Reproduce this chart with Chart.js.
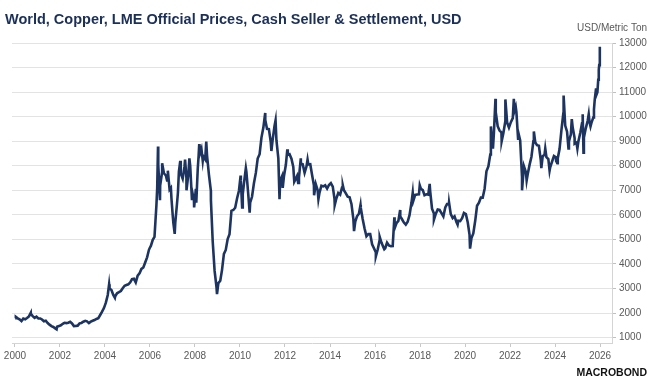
<!DOCTYPE html>
<html><head><meta charset="utf-8">
<script src="https://cdn.jsdelivr.net/npm/chart.js@4.4.1/dist/chart.umd.min.js"></script>
<style>html,body{margin:0;padding:0;background:#fff}#wrap{width:652px;height:385px;position:relative}</style>
</head><body><div id="wrap"><canvas id="c" width="652" height="385"></canvas></div>
<script>
const titleText = 'World, Copper, LME Official Prices, Cash Seller & Settlement, USD';
const unitLabel = 'USD/Metric Ton';
const logoText = 'MACROBOND';

// Monthly readings from Jan 2000 through Sep 2025 (USD per metric ton)
const firstYear = 2000;
const monthlyPrices = [
  1844,1786,1742,1675,1774,1747,1795,1864,1971,1875,1807,1854,
  1781,1781,1737,1667,1687,1593,1528,1467,1433,1378,1440,1469,
  1501,1562,1603,1589,1605,1644,1578,1471,1476,1485,1581,1597,
  1648,1683,1662,1590,1648,1686,1713,1760,1790,1921,2056,2202,
  2423,2737,3002,2935,2739,2683,2807,2848,2895,3011,3111,3142,
  3170,3254,3379,3394,3249,3524,3614,3797,3857,4059,4269,4576,
  4734,4982,5103,6387,8046,7197,7712,7695,7602,7500,7029,6676,
  5669,5676,6452,7766,7682,7475,7973,7510,7650,8008,6967,6588,
  7061,7888,8439,8685,8382,8260,8414,7633,6991,4926,3717,3072,
  3221,3315,3750,4407,4569,5014,5216,6165,6196,6288,6676,6982,
  7386,6849,7463,7745,6838,6499,6735,7284,7709,8292,8470,9147,
  9556,9868,9503,9493,8960,9067,9620,9040,8300,7394,7581,7566,
  8040,8441,8471,8289,7955,7422,7584,7515,8088,8062,7711,7966,
  8047,8061,7646,7203,7253,7000,6907,7186,7159,7203,7071,7215,
  7291,7149,6650,6674,6891,6821,7113,7002,6872,6737,6713,6446,
  5831,5729,5940,6042,6295,5833,5457,5127,5217,5216,4800,4639,
  4472,4599,4954,4873,4695,4640,4864,4750,4723,4731,5450,5660,
  5755,5941,5820,5685,5599,5719,5985,6480,6577,6812,6827,6834,
  7066,7006,6800,6838,6824,6967,6249,6052,6050,6219,6198,6073,
  5939,6305,6439,6436,6030,5867,5941,5709,5758,5744,5862,6077,
  6031,5687,5183,5058,5240,5757,6369,6498,6705,6703,7064,7772,
  7971,8460,9005,9336,10184,9612,9433,9357,9324,9778,9765,9551,
  9776,9941,10237,10183,9361,9032,7532,7982,7746,7651,8045,8367,
  8999,8955,8836,8814,8234,8386,8447,8352,8270,7940,8172,8393,
  8344,8307,8679,9466,10129,9638,9388,8988,9277,9554,9127,8945,
  8986,9342,9732,9155,9525,9834,9780,9746,9970
];

// Individual daily readings (highs, lows and the latest weeks)
const dailyDates = [
  '2000-01-04','2000-09-14','2001-11-07','2004-03-08','2004-06-10','2005-12-28',
  '2006-04-28','2006-05-11','2006-06-12','2006-07-17','2006-10-05','2006-10-20',
  '2006-12-06','2007-01-04','2007-02-06','2007-03-30','2007-05-07','2007-07-24',
  '2007-08-16','2007-10-02','2007-11-13','2007-12-18','2008-01-22','2008-02-29',
  '2008-03-10','2008-05-06','2008-07-02','2008-09-16','2008-12-24','2010-01-11',
  '2010-02-05','2010-04-06','2010-06-07','2011-02-14','2011-05-25','2011-08-01',
  '2011-10-04','2011-11-25','2012-02-08','2012-05-31','2012-08-02','2012-09-14',
  '2013-01-02','2013-04-18','2013-06-27','2014-03-19','2014-07-28','2015-01-26',
  '2015-05-11','2016-01-15','2016-03-18','2016-05-31','2016-11-11','2017-02-13',
  '2017-09-05','2017-12-28','2018-06-07','2018-08-15','2019-04-17','2019-09-03',
  '2020-03-23','2021-02-25','2021-03-30','2021-05-10','2021-08-19','2021-10-18',
  '2022-03-04','2022-04-04','2022-05-12','2022-07-15','2022-09-28','2023-01-23',
  '2023-05-24','2023-07-27','2023-10-05','2024-01-19','2024-02-07','2024-05-20',
  '2024-08-07','2024-09-30','2024-11-15','2024-12-30','2025-01-02','2025-03-26',
  '2025-04-08','2025-07-02','2025-07-31','2025-09-25','2025-10-08','2025-10-29',
  '2025-11-05','2025-11-20','2025-12-03','2025-12-12','2025-12-19','2025-12-29'
];
const dailyPrices = [
  1790,2010,1340,3170,2620,4650,
  7100,8788,6600,8100,7400,7800,
  7100,6000,5225,6900,8200,8250,
  7000,8300,6600,6300,6500,8400,
  8880,8200,8985,6600,2770,7600,
  6300,7900,6091,10148,8600,9850,
  6635,7100,8670,7350,7300,8300,
  8250,6800,6640,6400,7200,5340,
  6400,4310,5100,4600,5900,6200,
  6900,7200,7262,5800,6500,5600,
  4625,9600,8700,10724,9000,10700,
  10730,10400,9100,7000,7400,9400,
  7900,8700,7800,8200,8100,10857,
  8700,9900,8900,8700,8700,10100,
  8530,10100,9600,10300,10700,11150,
  10900,11000,11500,11900,12100,12850
];

const xTickYears = [2000,2002,2004,2006,2008,2010,2012,2014,2016,2018,2020,2022,2024,2026];
const yTickValues = [1000,2000,3000,4000,5000,6000,7000,8000,9000,10000,11000,12000,13000];

function decYear(y, m, d) {
  const s = Date.UTC(y, 0, 1), e = Date.UTC(y + 1, 0, 1), t = Date.UTC(y, m - 1, d);
  return y + (t - s) / (e - s);
}
const points = [];
monthlyPrices.forEach((v, i) => {
  const y = firstYear + Math.floor(i / 12), m = (i % 12) + 1;
  points.push({ x: decYear(y, m, 15), y: v });
});
dailyDates.forEach((s, i) => {
  const [y, m, d] = s.split('-').map(Number);
  points.push({ x: decYear(y, m, d), y: dailyPrices[i] });
});
points.sort((a, b) => a.x - b.x);

const textPlugin = {
  id: 'texts',
  afterDraw(chart) {
    const ctx = chart.ctx;
    ctx.save();
    ctx.fillStyle = '#1b2f57';
    ctx.font = 'bold 14.5px "Liberation Sans", Arial, sans-serif';
    ctx.textAlign = 'left';
    ctx.textBaseline = 'alphabetic';
    ctx.fillText(titleText, 5, 24);
    ctx.fillStyle = '#595959';
    ctx.font = '10px "Liberation Sans", Arial, sans-serif';
    ctx.textAlign = 'right';
    ctx.textBaseline = 'middle';
    ctx.fillText(unitLabel, 647, 28);
    ctx.fillStyle = '#111111';
    ctx.font = 'bold 10.5px "Liberation Sans", Arial, sans-serif';
    ctx.textBaseline = 'alphabetic';
    ctx.fillText(logoText, 647, 376);
    ctx.restore();
  }
};

const tickFont = { family: '"Liberation Sans", Arial, sans-serif', size: 10 };

new Chart(document.getElementById('c'), {
  type: 'line',
  data: {
    datasets: [{
      data: points,
      borderColor: '#1d3461',
      borderWidth: 2.6,
      pointRadius: 0,
      tension: 0,
      fill: false
    }]
  },
  options: {
    responsive: false,
    animation: false,
    devicePixelRatio: 1,
    layout: { padding: { top: 43, left: 12, right: 0, bottom: 22 } },
    plugins: { legend: { display: false }, tooltip: { enabled: false }, title: { display: false } },
    scales: {
      x: {
        type: 'linear',
        min: 1999.867,
        max: 2026.533,
        afterBuildTicks: s => { s.ticks = xTickYears.map(v => ({ value: v })); },
        afterFit: s => { s.height = 20; },
        ticks: { callback: v => String(v), color: '#595959', font: tickFont, padding: 3, maxRotation: 0, autoSkip: false },
        grid: { drawOnChartArea: false, drawTicks: true, tickLength: 4, color: '#c8c8c8' },
        border: { display: true, color: '#d4d4d4' }
      },
      y: {
        type: 'linear',
        position: 'right',
        min: 780,
        max: 13000,
        afterBuildTicks: s => { s.ticks = yTickValues.map(v => ({ value: v })); },
        afterFit: s => { s.width = 40; },
        ticks: { callback: v => String(v), color: '#595959', font: tickFont, padding: 3 },
        grid: { color: '#e3e3e3', drawTicks: true, tickLength: 4, tickColor: '#c0c0c0' },
        border: { display: true, color: '#d4d4d4' }
      }
    }
  },
  plugins: [textPlugin]
});
</script>
</body></html>
